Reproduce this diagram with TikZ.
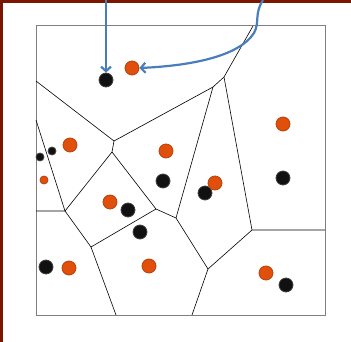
\documentclass[tikz,border=0pt]{standalone}
\usepackage{tikz}
\usetikzlibrary{arrows.meta}
\definecolor{siteOrange}{HTML}{E04F0C}
\definecolor{siteOrangeEdge}{HTML}{B8410A}
\definecolor{siteBlack}{HTML}{111111}
\definecolor{pointerBlue}{HTML}{4A7EBB}
\definecolor{frameRed}{HTML}{7A1600}
\definecolor{boxGray}{HTML}{7F7F7F}
\tikzset{
    siteBase/.style={
        circle,
        inner sep=0pt,
        minimum size=14pt,
        line width=0.8pt
    },
    % Site Variants
    blackSite/.style={siteBase, fill=siteBlack, draw=siteBlack!80},
    orangeSite/.style={siteBase, fill=siteOrange, draw=siteOrangeEdge},
    smallSite/.style={minimum size=8pt},
    % Lines
    cellEdge/.style={draw=black, line width=0.6pt},
    boxFrame/.style={draw=boxGray, line width=1pt},
    pointerArrow/.style={-{Straight Barb[length=4.5pt,width=10pt]}, line width=2.2pt, draw=pointerBlue}
}
\begin{document}
\begin{tikzpicture}[x=1pt, y=-1pt]
    \useasboundingbox (0,0) rectangle (351,342);

    % Slide border
    \fill[frameRed] (0,0) rectangle (351,3);
    \fill[frameRed] (0,0) rectangle (3,342);

    % Bounding square
    \draw[boxFrame] (36,26) rectangle (325,315);

    % Cell vertices
    \coordinate (vA) at (114,141);
    \coordinate (vA2) at (112,152);
    \coordinate (vB) at (213,87);
    \coordinate (vB2) at (224,77);
    \coordinate (vC) at (65,211);
    \coordinate (vD) at (91,247);
    \coordinate (vE) at (156,209);
    \coordinate (vF) at (176,218);
    \coordinate (vG) at (208,269);
    \coordinate (vH) at (252,230);

    % Cell edges
    \draw[cellEdge] (36,81) -- (vA) -- (vB) -- (vB2) -- (253,26);
    \draw[cellEdge] (vA) -- (vA2) -- (vC);
    \draw[cellEdge] (vA2) -- (vE);
    \draw[cellEdge] (vB) -- (vF);
    \draw[cellEdge] (vB2) -- (vH) -- (325,230);
    \draw[cellEdge] (36,120) -- (vC);
    \draw[cellEdge] (36,211) -- (vC) -- (vD) -- (vE) -- (vF) -- (vG) -- (vH);
    \draw[cellEdge] (vD) -- (116,315);
    \draw[cellEdge] (vG) -- (192,315);

    % Black sites
    \node[blackSite] (b1) at (106,80) {};
    \node[blackSite, smallSite] (b2) at (40,157) {};
    \node[blackSite, smallSite] (b3) at (52,151) {};
    \node[blackSite] (b4) at (163,181) {};
    \node[blackSite] (b5) at (205,193) {};
    \node[blackSite] (b6) at (283,178) {};
    \node[blackSite] (b7) at (128,210) {};
    \node[blackSite] (b8) at (140,232) {};
    \node[blackSite] (b9) at (46,267) {};
    \node[blackSite] (b10) at (286,285) {};

    % Orange sites
    \node[orangeSite] (o1) at (132,68) {};
    \node[orangeSite] (o2) at (70,145) {};
    \node[orangeSite, smallSite] (o3) at (44,180) {};
    \node[orangeSite] (o4) at (166,151) {};
    \node[orangeSite] (o5) at (283,124) {};
    \node[orangeSite] (o6) at (215,183) {};
    \node[orangeSite] (o7) at (110,202) {};
    \node[orangeSite] (o8) at (69,268) {};
    \node[orangeSite] (o9) at (149,266) {};
    \node[orangeSite] (o10) at (266,273) {};

    % Pointers
    \coordinate (srcLeft) at (106,0);
    \coordinate (srcRight) at (263,0);
    \draw[pointerArrow] (srcLeft) -- (b1.north);
    \draw[pointerArrow] (srcRight) .. controls (254,14) and (260,22) .. (254,33)
        .. controls (238,58) and (185,66) .. (o1.east);
\end{tikzpicture}
\end{document}
